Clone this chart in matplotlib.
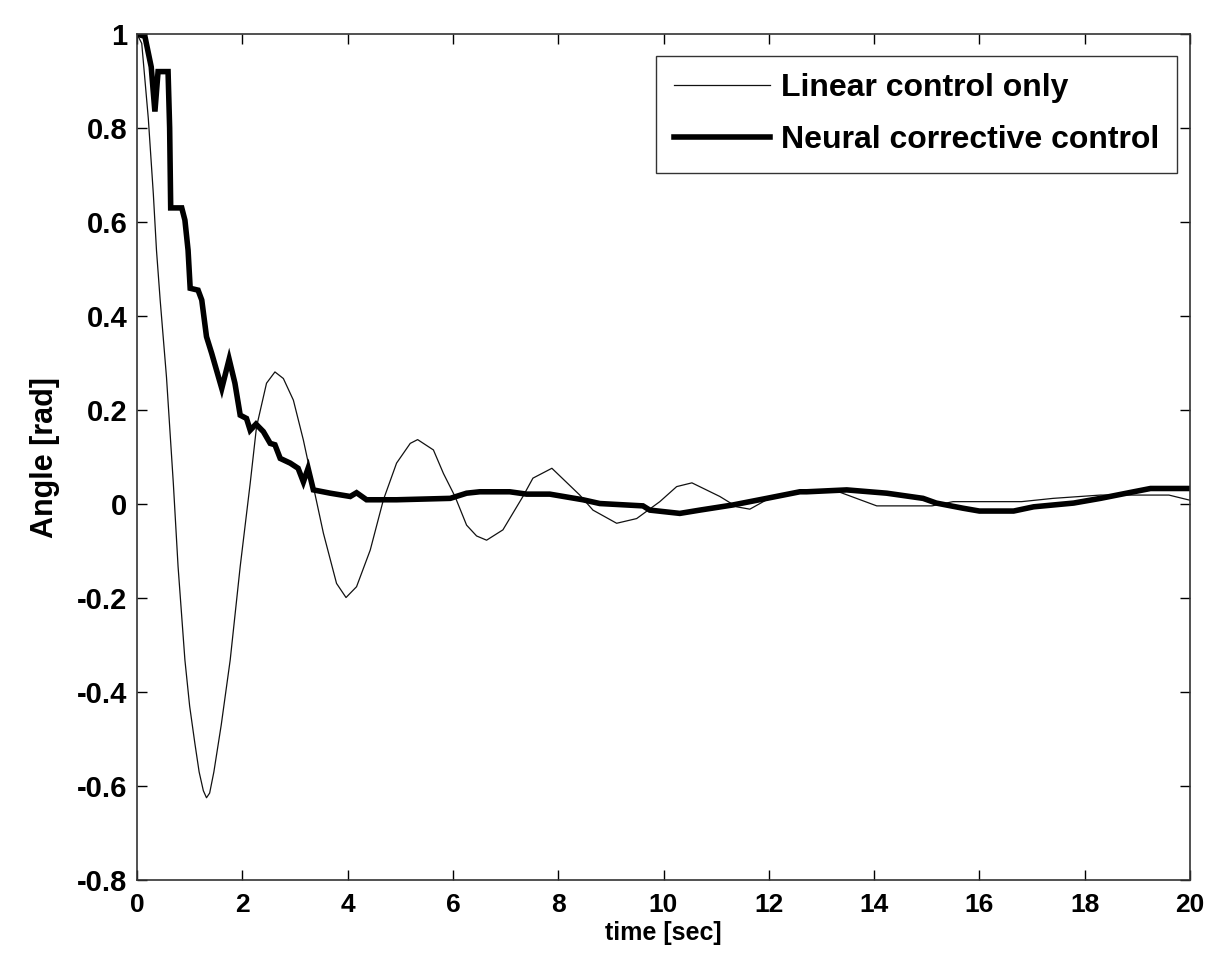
import matplotlib
matplotlib.use("Agg")
import matplotlib.pyplot as plt

# Linear control only (thin line)
t_lin = [0, 0.09, 0.215, 0.31, 0.37, 0.44, 0.56, 0.69, 0.78, 0.91, 1.0, 1.1, 1.18, 1.26, 1.32,
         1.38, 1.46, 1.6, 1.77, 1.96, 2.15, 2.27, 2.46, 2.62, 2.78, 2.97, 3.16, 3.35,
         3.54, 3.79, 3.97, 4.17, 4.43, 4.68, 4.93, 5.19, 5.33, 5.63, 5.82, 6.04,
         6.26, 6.45, 6.64, 6.95, 7.33, 7.52, 7.88, 8.41, 8.66, 9.11, 9.49, 9.93, 10.25,
         10.54, 11.07, 11.39, 11.64, 11.96, 12.59, 13.35, 14.05, 15.1, 15.5, 16.8,
         17.4, 18.3, 19.6, 20]
y_lin = [1.0, 0.98, 0.82, 0.66, 0.54, 0.434, 0.27, 0.044, -0.133, -0.332, -0.43, -0.51, -0.57, -0.61, -0.625,
         -0.615, -0.57, -0.47, -0.332, -0.133, 0.044, 0.164, 0.257, 0.281, 0.267, 0.221, 0.136, 0.037,
         -0.062, -0.169, -0.199, -0.176, -0.098, 0.009, 0.087, 0.129, 0.137, 0.115, 0.065, 0.016,
         -0.045, -0.068, -0.077, -0.055, 0.016, 0.055, 0.076, 0.019, -0.013, -0.041, -0.031, 0.005, 0.037,
         0.045, 0.016, -0.006, -0.011, 0.009, 0.025, 0.025, -0.004, -0.004, 0.005, 0.005,
         0.012, 0.019, 0.019, 0.008]

# Neural corrective control (thick line)
t_nn = [0, 0.15, 0.27, 0.34, 0.40, 0.59, 0.62, 0.64, 0.85, 0.91, 0.97, 1.01, 1.16, 1.23,
        1.32, 1.42, 1.61, 1.75, 1.86, 1.96, 2.08, 2.15, 2.26, 2.40, 2.53, 2.62, 2.72,
        2.91, 3.06, 3.16, 3.25, 3.35, 3.67, 4.05, 4.17, 4.36, 4.93, 5.95, 6.26, 6.51,
        7.08, 7.4, 7.84, 8.47, 8.79, 9.61, 9.74, 10.31, 10.69, 11.32, 11.96, 12.59,
        12.72, 13.48, 14.24, 14.93, 15.18, 15.69, 16.0, 16.65, 17.03, 17.79, 18.3,
        18.93, 19.25, 20]
y_nn = [1.0, 0.995, 0.93, 0.835, 0.92, 0.92, 0.80, 0.63, 0.63, 0.604, 0.54, 0.459, 0.455, 0.434,
        0.356, 0.32, 0.246, 0.308, 0.257, 0.189, 0.182, 0.157, 0.17, 0.154, 0.129, 0.126, 0.097,
        0.087, 0.076, 0.047, 0.076, 0.03, 0.023, 0.016, 0.024, 0.009, 0.009, 0.012, 0.023, 0.026,
        0.026, 0.021, 0.021, 0.009, 0.001, -0.004, -0.013, -0.02, -0.013, -0.002, 0.012, 0.026,
        0.026, 0.03, 0.023, 0.012, 0.002, -0.009, -0.015, -0.015, -0.006, 0.002, 0.012,
        0.026, 0.033, 0.033]

x_ticks = [0, 2, 4, 6, 8, 10, 12, 14, 16, 18, 20]
y_ticks = [-0.8, -0.6, -0.4, -0.2, 0, 0.2, 0.4, 0.6, 0.8, 1]
y_ticklabels = ["-0.8", "-0.6", "-0.4", "-0.2", "0", "0.2", "0.4", "0.6", "0.8", "1"]

plt.rcParams['font.family'] = ['Liberation Sans', 'DejaVu Sans']
plt.rcParams['font.weight'] = 'bold'

fig = plt.figure(figsize=(12.26, 9.6), dpi=100)
L, R, T, B = 137, 1190, 34, 880
ax = fig.add_axes([L / 1226, 1 - B / 960, (R - L) / 1226, (B - T) / 960])

ax.plot(t_lin, y_lin, color='#111111', lw=0.9, label='Linear control only')
ax.plot(t_nn, y_nn, color='black', lw=4.0, label='Neural corrective control',
        solid_joinstyle='miter')

ax.set_xlim(0, 20)
ax.set_ylim(-0.8, 1)
ax.set_xticks(x_ticks)
ax.set_yticks(y_ticks)
ax.set_yticklabels(y_ticklabels)
ax.tick_params(direction='in', top=True, right=True, length=7.5,
               width=1, colors='black')
ax.tick_params(axis='x', labelsize=19, pad=9)
ax.tick_params(axis='y', labelsize=21, pad=7)
for lab in ax.get_xticklabels() + ax.get_yticklabels():
    lab.set_fontweight('bold')
for s in ax.spines.values():
    s.set_linewidth(1.2)
    s.set_color('#333333')

ax.set_xlabel('time [sec]', fontsize=18, fontweight='bold', labelpad=3)
ax.set_ylabel('Angle [rad]', fontsize=22, fontweight='bold', labelpad=12)

leg = ax.legend(loc='upper right', bbox_to_anchor=((1177 - L) / (R - L), (B - 55.5) / (B - T)),
                fontsize=23, frameon=True, fancybox=False, edgecolor='black',
                handlelength=3.0, borderpad=0.55, labelspacing=0.69, handletextpad=0.36,
                borderaxespad=0)
leg.get_frame().set_linewidth(1.0)
for txt in leg.get_texts():
    txt.set_fontweight('bold')

fig.savefig('out.png', dpi=100, facecolor='white')
